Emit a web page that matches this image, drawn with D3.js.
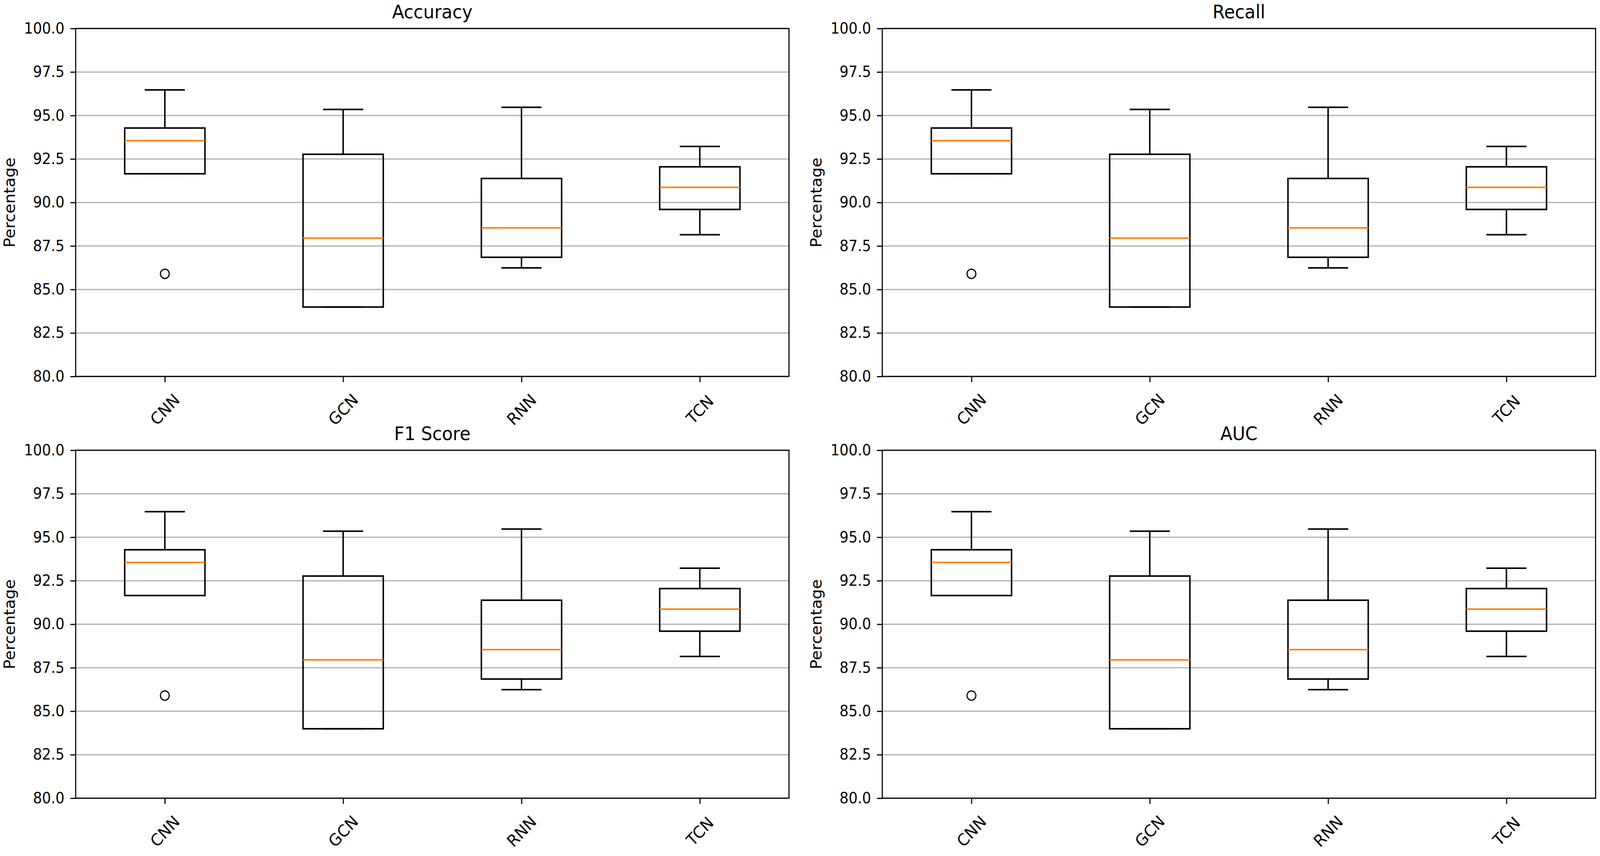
<!DOCTYPE html>
<html>
<head>
<meta charset="utf-8">
<script src="https://cdn.jsdelivr.net/npm/d3@7"></script>
<style>
  html, body { margin: 0; padding: 0; width: 100%; height: 100%; overflow: hidden; background: #fff; }
  svg { display: block; width: 100vw; height: 100vh; font-family: "DejaVu Sans", sans-serif; }
</style>
</head>
<body>
<svg id="chart" viewBox="0 0 4356 2192" preserveAspectRatio="none"></svg>
<script>
// values (same numbers show in all four panels)
var categories = ["CNN", "GCN", "RNN", "TCN"];
var metric_titles = ["Accuracy", "Recall", "F1 Score", "AUC"];
var low_whisker  = [91.65, 83.99, 86.24, 88.15];
var q1           = [91.65, 83.99, 86.85, 89.60];
var median       = [93.55, 87.95, 88.54, 90.87];
var q3           = [94.28, 92.77, 91.38, 92.05];
var high_whisker = [96.47, 95.35, 95.47, 93.22];
var outliers     = [[85.9], [], [], []];
var y_ticks = [80, 82.5, 85, 87.5, 90, 92.5, 95, 97.5, 100];

var svg = d3.select("#chart");
svg.append("rect").attr("width", 4356).attr("height", 2192).attr("fill", "white");

// panel positions (pixels)
var panel_w = 1942, panel_h = 891;
var panel_x = [206, 2402], panel_y = [73, 1153];

function draw_panel(title, px, py) {
  var g = svg.append("g");
  var x = d3.scaleLinear().domain([0.5, 4.5]).range([px, px + panel_w]);
  var y = d3.scaleLinear().domain([80, 100]).range([py + panel_h, py]);
  var box_w = 0.45;

  // grid
  g.selectAll("line.grid").data(y_ticks).enter().append("line")
    .attr("class", "grid")
    .attr("x1", px).attr("x2", px + panel_w)
    .attr("y1", function(d) { return y(d); })
    .attr("y2", function(d) { return y(d); })
    .style("stroke", "#b0b0b0").style("stroke-width", 3);

  for (var i = 0; i < categories.length; i++) {
    var pos = i + 1;
    var box = g.append("g").attr("class", "box");
    // whiskers
    box.append("line")
      .attr("x1", x(pos)).attr("x2", x(pos))
      .attr("y1", y(q3[i])).attr("y2", y(high_whisker[i]));
    box.append("line")
      .attr("x1", x(pos)).attr("x2", x(pos))
      .attr("y1", y(q1[i])).attr("y2", y(low_whisker[i]));
    // caps
    box.append("line")
      .attr("x1", x(pos - box_w / 4)).attr("x2", x(pos + box_w / 4))
      .attr("y1", y(high_whisker[i])).attr("y2", y(high_whisker[i]));
    box.append("line")
      .attr("x1", x(pos - box_w / 4)).attr("x2", x(pos + box_w / 4))
      .attr("y1", y(low_whisker[i])).attr("y2", y(low_whisker[i]));
    // box
    box.append("rect")
      .attr("x", x(pos - box_w / 2))
      .attr("y", y(q3[i]))
      .attr("width", x(pos + box_w / 2) - x(pos - box_w / 2))
      .attr("height", y(q1[i]) - y(q3[i]))
      .style("fill", "none");
    box.selectAll("line, rect").style("stroke", "black").style("stroke-width", 4);
    // median
    box.append("line")
      .attr("x1", x(pos - box_w / 2)).attr("x2", x(pos + box_w / 2))
      .attr("y1", y(median[i])).attr("y2", y(median[i]))
      .style("stroke", "#ff7f0e").style("stroke-width", 4);
    // fliers
    box.selectAll("circle").data(outliers[i]).enter().append("circle")
      .attr("cx", x(pos))
      .attr("cy", function(d) { return y(d); })
      .attr("r", 12)
      .style("fill", "none").style("stroke", "black").style("stroke-width", 3);
  }

  // spines
  g.append("rect")
    .attr("x", px).attr("y", py).attr("width", panel_w).attr("height", panel_h)
    .style("fill", "none").style("stroke", "black").style("stroke-width", 3);

  // y axis
  var y_axis = g.append("g").attr("transform", "translate(" + px + ",0)")
    .call(d3.axisLeft(y).tickValues(y_ticks).tickFormat(d3.format(".1f"))
      .tickSize(14.5).tickPadding(16));
  y_axis.select(".domain").remove();
  y_axis.selectAll(".tick line").style("stroke", "black").style("stroke-width", 3);
  y_axis.selectAll(".tick text")
    .style("font-family", "DejaVu Sans").style("font-size", "38.5px").style("fill", "black");

  // x axis
  var x_axis = g.append("g").attr("transform", "translate(0," + (py + panel_h) + ")")
    .call(d3.axisBottom(x).tickValues([1, 2, 3, 4])
      .tickFormat(function(d) { return categories[d - 1]; })
      .tickSize(14.5));
  x_axis.select(".domain").remove();
  x_axis.selectAll(".tick line").style("stroke", "black").style("stroke-width", 3);
  x_axis.selectAll(".tick text")
    .style("font-family", "DejaVu Sans").style("font-size", "42px").style("fill", "black")
    .attr("y", null).attr("dy", null)
    .attr("text-anchor", "middle")
    .attr("dominant-baseline", "central")
    .attr("transform", "translate(0,85) rotate(-45)");

  // title
  g.append("text")
    .attr("x", px + panel_w / 2).attr("y", py - 26)
    .attr("text-anchor", "middle")
    .style("font-size", "48px").style("fill", "black")
    .text(title);

  // y label
  g.append("text")
    .attr("transform", "translate(" + (px - 166) + "," + (py + panel_h / 2) + ") rotate(-90)")
    .attr("text-anchor", "middle")
    .style("font-size", "41px").style("fill", "black")
    .text("Percentage");
}

for (var k = 0; k < metric_titles.length; k++) {
  draw_panel(metric_titles[k], panel_x[k % 2], panel_y[Math.floor(k / 2)]);
}
</script>
</body>
</html>
